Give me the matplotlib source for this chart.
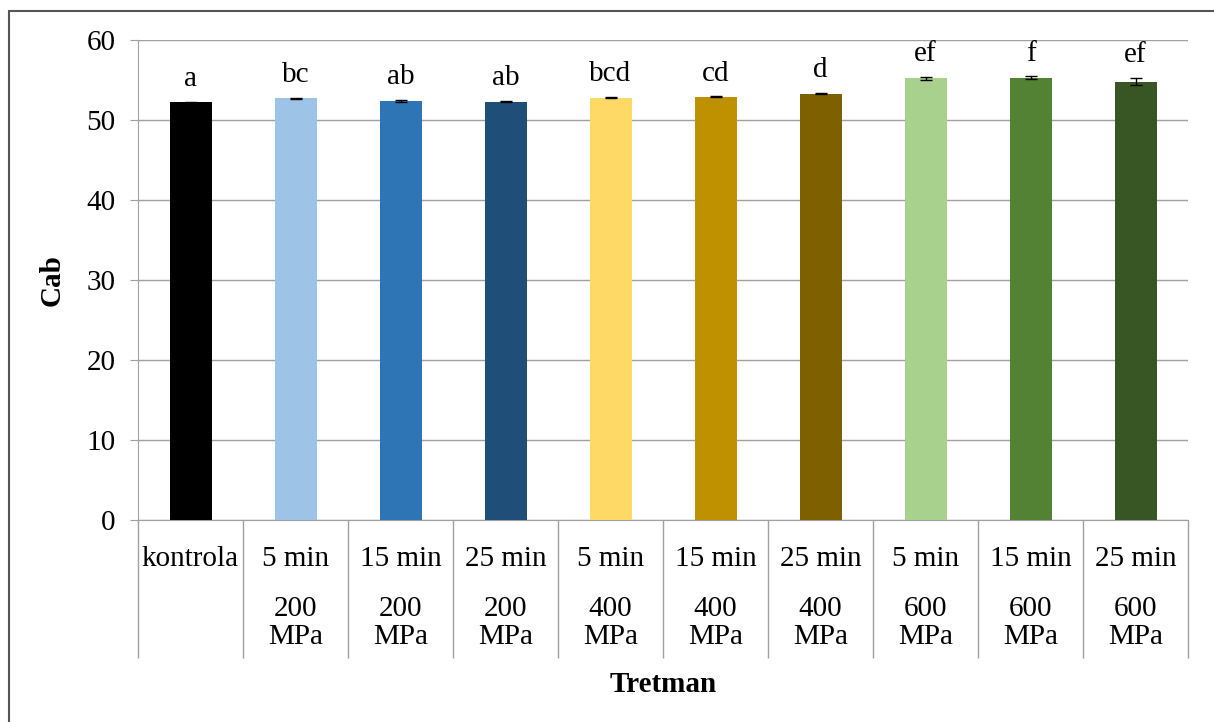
import numpy as np
import matplotlib.pyplot as plt
from matplotlib.patches import Rectangle

plt.rcParams['font.family'] = ['Liberation Serif', 'DejaVu Serif']

# DATA
treatments = ["kontrola", "5 min", "15 min", "25 min", "5 min", "15 min",
              "25 min", "5 min", "15 min", "25 min"]
pressures = ["", "200\nMPa", "200\nMPa", "200\nMPa", "400\nMPa", "400\nMPa",
             "400\nMPa", "600\nMPa", "600\nMPa", "600\nMPa"]
cab = [52.2, 52.7, 52.4, 52.3, 52.8, 52.9, 53.3, 55.2, 55.3, 54.8]
cab_err = [0.05, 0.1, 0.15, 0.1, 0.05, 0.05, 0.05, 0.15, 0.15, 0.45]
letters = ["a", "bc", "ab", "ab", "bcd", "cd", "d", "ef", "f", "ef"]
colors = ["#000000", "#9DC3E6", "#2E75B6", "#1F4E79", "#FFD966",
          "#BF9000", "#7F6000", "#A9D18E", "#548235", "#375623"]

FS = 21
W, H = 1214, 722
fig = plt.figure(figsize=(W / 100, H / 100), dpi=100)
ax = fig.add_axes([138 / W, 1 - 520 / H, (1188 - 138) / W, (520 - 40) / H])

x = np.arange(len(cab))
ax.bar(x, cab, width=0.4, color=colors, zorder=3)
ax.errorbar(x, cab, yerr=cab_err, fmt="none", ecolor="black",
            elinewidth=1, capsize=4, capthick=1, zorder=4)

# significance letters
for xi, v, e, lab in zip(x, cab, cab_err, letters):
    ax.annotate(lab, (xi, v + e), xytext=(0, 7), textcoords="offset points",
                ha="center", va="bottom", fontsize=FS)

# AXES
ax.set_xlim(-0.5, len(cab) - 0.5)
ax.set_ylim(0, 60)
ax.set_yticks(range(0, 61, 10))
ax.tick_params(axis="y", labelsize=FS, length=6, color="#A0A0A0", pad=10)
ax.yaxis.grid(True, color="#A0A0A0", linewidth=1, zorder=0)

ax.set_xticks(x)
ax.set_xticklabels(treatments, fontsize=FS)
ax.tick_params(axis="x", which="major", length=0, pad=19)
# category separators as long minor ticks
ax.set_xticks(np.arange(-0.5, len(cab), 1), minor=True)
ax.tick_params(axis="x", which="minor", length=99, color="#A0A0A0", width=1)

for xi, p in zip(x, pressures):
    ax.text(xi, -0.158, p, transform=ax.get_xaxis_transform(),
            ha="center", va="top", fontsize=FS, linespacing=1.1)

for s in ["top", "right"]:
    ax.spines[s].set_visible(False)
ax.spines["left"].set_color("#A0A0A0")
ax.spines["bottom"].set_color("#A0A0A0")

fig.text(52 / W, 1 - 280 / H, "Cab", rotation=90, ha="center", va="center",
         fontsize=FS, fontweight="bold")
fig.text(663 / W, 1 - 684 / H, "Tretman", ha="center", va="center",
         fontsize=FS, fontweight="bold")

# outer chart frame
fig.patches.append(Rectangle((9 / W, -0.1), 1.2, 1.1 - 11 / H, transform=fig.transFigure,
                             fill=False, edgecolor="#555555", linewidth=1.5))

fig.savefig("out.png", dpi=100)
